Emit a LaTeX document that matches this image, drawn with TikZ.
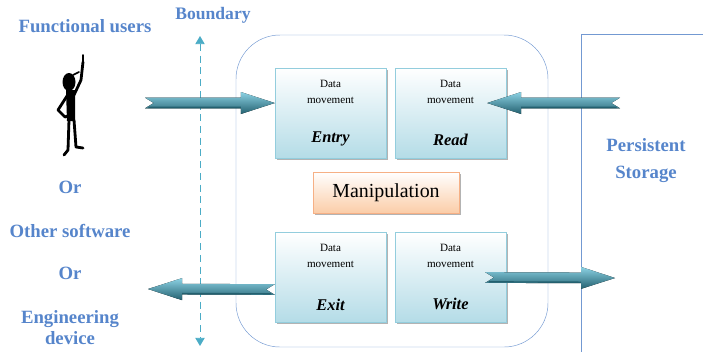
\documentclass[tikz,border=0pt]{standalone}
\usepackage{fontspec}
\setmainfont{Liberation Serif}
\newfontfamily\labelfont{Liberation Serif}
\usetikzlibrary{arrows.meta,calc,shadows,positioning}

\definecolor{labelblue}{HTML}{5685CB}
\definecolor{frameblue}{HTML}{7399D2}
\definecolor{boundcol}{HTML}{4BACC6}
\definecolor{movefill}{HTML}{B4DCE7}
\definecolor{moveline}{HTML}{93CDDD}
\definecolor{manfill}{HTML}{FBCDA8}
\definecolor{manline}{HTML}{F6B085}
\definecolor{flowlight}{HTML}{8CD2E4}
\definecolor{flowmid}{HTML}{4BACC6}
\definecolor{flowdark}{HTML}{23606F}

\tikzstyle{who} = [text=labelblue, font=\labelfont\fontsize{16}{18}\selectfont\bfseries, align=center]
\tikzstyle{movebox} = [rectangle, draw=moveline, top color=white, bottom color=movefill,
  minimum width=111*0.03cm, minimum height=90*0.03cm,
  drop shadow={shadow xshift=1.6pt, shadow yshift=-1.6pt, fill=black!50, opacity=.6}]
\tikzstyle{dmtext} = [font=\labelfont\fontsize{9.5}{14}\selectfont, align=center, inner sep=1pt]
\tikzstyle{kindtext} = [font=\labelfont\fontsize{14}{16}\selectfont\bfseries\itshape, inner sep=1pt]
\tikzstyle{manbox} = [rectangle, draw=manline, top color=white, bottom color=manfill,
  minimum width=146*0.03cm, minimum height=41*0.03cm, font=\labelfont\fontsize{17}{19}\selectfont,
  drop shadow={shadow xshift=1.6pt, shadow yshift=-1.6pt, fill=black!50, opacity=.6}]
\tikzstyle{flow} = [top color=flowlight, middle color=flowmid, bottom color=flowdark]
\tikzstyle{boundline} = [boundcol, thick, dash pattern=on 6pt off 4pt, {Triangle[length=7pt,width=8pt]}-{Triangle[length=7pt,width=8pt]}]
\tikzstyle{figure} = [black, line width=2.4pt, line cap=round, line join=round]

% fat block arrow with a notched tail, from #1 (tail) to #2 (tip)
\newcommand{\flowarrow}[2]{%
  \coordinate (hb) at ($(#2)!1.02cm!(#1)$);
  \coordinate (nt) at ($(#1)!0.26cm!(#2)$);
  \fill[flow] ($(#1)+(0pt,0.16cm)$) -- ($(hb)+(0pt,0.16cm)$) -- ($(hb)+(0pt,0.33cm)$)
    -- (#2) -- ($(hb)+(0pt,-0.33cm)$) -- ($(hb)+(0pt,-0.16cm)$)
    -- ($(#1)+(0pt,-0.16cm)$) -- (nt) -- cycle;
  \draw[flowdark, line width=1.2pt] ($(#1)!0.1cm!(#2)+(0pt,-0.13cm)$) -- ($(hb)+(0pt,-0.13cm)$);
}

\begin{document}
\begin{tikzpicture}[x=0.03cm, y=-0.03cm]
\path[use as bounding box] (0,0) rectangle (703,351);

% actors
\node [who] at (85, 26) (users) {Functional users};
\node [who] at (70, 187) (or1) {Or};
\node [who] at (70, 231) (software) {Other software};
\node [who] at (70, 273) (or2) {Or};
\node [who] at (70, 328) (device) {Engineering\\[0pt]device};

% stick man
\fill[black] (66,90) -- (75,90) -- (75,121) -- (67,121) -- cycle;
\fill[black] (69,82) ellipse (6.5 and 9);
\draw[figure, line width=1.5pt] (73,75) -- (79,72);
\draw[figure] (74,95) -- (81,80) -- (83,62);
\draw[figure, line width=1.5pt] (83,62) -- (83,55);
\draw[figure] (67,96) -- (58,110) -- (65,117) -- (70,115);
\draw[figure] (69,120) -- (68,150) -- (64,155);
\draw[figure] (74,120) -- (76,147) -- (83,148);

% boundary
\node [text=labelblue, font=\labelfont\fontsize{15}{17}\selectfont\bfseries] at (213, 15) (bndlabel) {Boundary};
\coordinate (bndtop) at (200, 36);
\coordinate (bndbot) at (200, 346);
\draw [boundline] (bndtop) -- (bndbot);

% software under measurement
\draw [frameblue, rounded corners=1.32cm] (236, 35) rectangle (548, 347);

% persistent storage
\begin{scope}
\clip (0,0) rectangle (703,351);
\node [draw=frameblue, rectangle, minimum width=130*0.03cm, minimum height=340*0.03cm] at (646, 204) (storage) {};
\end{scope}
\node [who, below=101*0.03cm of storage.north] (storetext) {Persistent\\[5pt]Storage};

% data movements
\node [movebox] at (330.5, 113) (entry) {};
\node [movebox] at (450.5, 113) (read) {};
\node [movebox] at (330.5, 277.5) (exit) {};
\node [movebox] at (450.5, 277.5) (write) {};
\node [dmtext, below=9pt of entry.north] (entrydm) {Data\\movement};
\node [dmtext, below=9pt of read.north] (readdm) {Data\\movement};
\node [dmtext, below=9pt of exit.north] (exitdm) {Data\\movement};
\node [dmtext, below=9pt of write.north] (writedm) {Data\\movement};
\node [kindtext, above=9.5pt of entry.south] (entryname) {Entry};
\node [kindtext, above=9.5pt of read.south] (readname) {Read};
\node [kindtext, above=9.5pt of exit.south] (exitname) {Exit};
\node [kindtext, above=9.5pt of write.south] (writename) {Write};

\node [manbox] at (386, 192.5) (manip) {Manipulation};

% flows across the boundary
\coordinate (usersin) at (145, 103);
\coordinate (usersout) at (148, 289);
\coordinate (storeout) at (620, 103);
\coordinate (storein) at (615, 278);
\flowarrow{usersin}{[yshift=0.3cm]entry.west}
\flowarrow{storeout}{[xshift=-0.57cm, yshift=0.3cm]read.east}
\flowarrow{[yshift=-0.36cm]exit.west}{usersout}
\flowarrow{[xshift=-0.63cm]write.east}{storein}

\end{tikzpicture}
\end{document}
